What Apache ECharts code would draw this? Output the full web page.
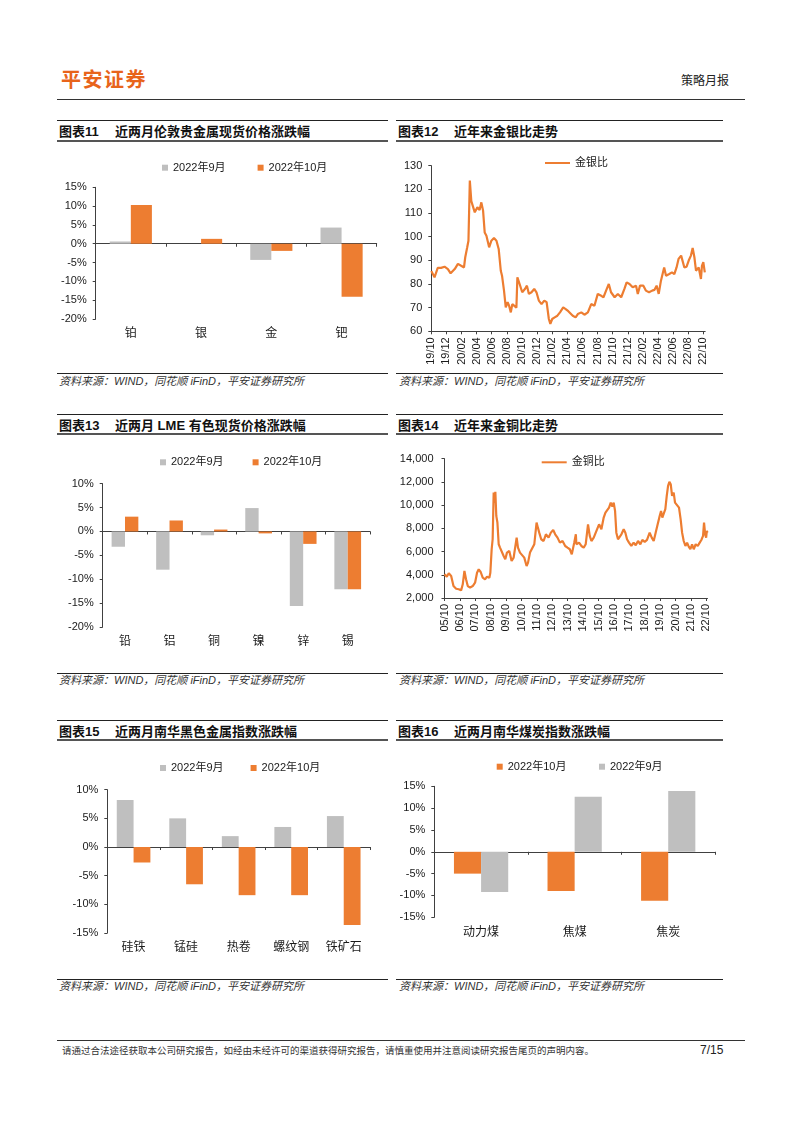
<!DOCTYPE html>
<html>
<head>
<meta charset="utf-8">
<script src="https://cdn.jsdelivr.net/npm/echarts@6/dist/echarts.min.js"></script>
<style>
  html,body{margin:0;padding:0;background:#fff;}
  body{font-family:'Liberation Sans',Arial,'Noto Sans CJK SC',sans-serif;color:#1a1a1a;}
  #page{position:relative;width:802px;height:1133px;overflow:hidden;background:#fff;}
  .ln{position:absolute;height:0;}
  .ttl{position:absolute;font-family:'Liberation Sans',Arial,'Noto Sans CJK SC',sans-serif;font-weight:bold;font-size:13px;line-height:16px;color:#111;white-space:nowrap;}
  .ttl .num{display:inline-block;width:56px;}
  .src{position:absolute;font-style:italic;font-size:11px;line-height:13px;color:#333;white-space:nowrap;}
  .chart{position:absolute;}
</style>
</head>
<body>
<div id="page">
  <!-- header -->
  <div style="position:absolute;left:61px;top:67px;font-family:'Noto Sans CJK SC';font-weight:bold;font-size:20px;line-height:24px;letter-spacing:1.5px;color:#E8641B;">平安证券</div>
  <div style="position:absolute;left:681px;top:72px;font-family:'Noto Sans CJK SC';font-size:12px;line-height:16px;color:#222;">策略月报</div>
  <div class="ln" style="left:57px;top:99px;width:688px;border-top:1px solid #333;"></div>

  <!-- row 1 titles -->
  <div class="ln" style="left:57px;top:120px;width:331px;border-top:1px solid #222;"></div>
  <div class="ttl" style="left:59px;top:124px;"><span class="num">图表11</span>近两月伦敦贵金属现货价格涨跌幅</div>
  <div class="ln" style="left:57px;top:139.5px;width:331px;border-top:2px solid #555;"></div>
  <div class="ln" style="left:396px;top:120px;width:327px;border-top:1px solid #222;"></div>
  <div class="ttl" style="left:398px;top:124px;"><span class="num">图表12</span>近年来金银比走势</div>
  <div class="ln" style="left:396px;top:139.5px;width:327px;border-top:2px solid #555;"></div>

  <div class="ln" style="left:57px;top:373px;width:331px;border-top:1px solid #222;"></div>
  <div class="src" style="left:59px;top:374.5px;">资料来源：WIND，同花顺 iFinD，平安证券研究所</div>
  <div class="ln" style="left:396px;top:373px;width:327px;border-top:1px solid #222;"></div>
  <div class="src" style="left:399px;top:374.5px;">资料来源：WIND，同花顺 iFinD，平安证券研究所</div>

  <!-- row 2 titles -->
  <div class="ln" style="left:57px;top:414px;width:331px;border-top:1px solid #222;"></div>
  <div class="ttl" style="left:59px;top:418px;"><span class="num">图表13</span>近两月 LME 有色现货价格涨跌幅</div>
  <div class="ln" style="left:57px;top:433px;width:331px;border-top:2px solid #555;"></div>
  <div class="ln" style="left:396px;top:414px;width:327px;border-top:1px solid #222;"></div>
  <div class="ttl" style="left:398px;top:418px;"><span class="num">图表14</span>近年来金铜比走势</div>
  <div class="ln" style="left:396px;top:433px;width:327px;border-top:2px solid #555;"></div>

  <div class="ln" style="left:57px;top:673px;width:331px;border-top:1px solid #222;"></div>
  <div class="src" style="left:59px;top:674px;">资料来源：WIND，同花顺 iFinD，平安证券研究所</div>
  <div class="ln" style="left:396px;top:673px;width:327px;border-top:1px solid #222;"></div>
  <div class="src" style="left:399px;top:674px;">资料来源：WIND，同花顺 iFinD，平安证券研究所</div>

  <!-- row 3 titles -->
  <div class="ln" style="left:57px;top:720px;width:331px;border-top:1px solid #222;"></div>
  <div class="ttl" style="left:59px;top:724px;"><span class="num">图表15</span>近两月南华黑色金属指数涨跌幅</div>
  <div class="ln" style="left:57px;top:739px;width:331px;border-top:2px solid #555;"></div>
  <div class="ln" style="left:396px;top:720px;width:327px;border-top:1px solid #222;"></div>
  <div class="ttl" style="left:398px;top:724px;"><span class="num">图表16</span>近两月南华煤炭指数涨跌幅</div>
  <div class="ln" style="left:396px;top:739px;width:327px;border-top:2px solid #555;"></div>

  <div class="ln" style="left:57px;top:979px;width:331px;border-top:1px solid #222;"></div>
  <div class="src" style="left:59px;top:980px;">资料来源：WIND，同花顺 iFinD，平安证券研究所</div>
  <div class="ln" style="left:396px;top:979px;width:327px;border-top:1px solid #222;"></div>
  <div class="src" style="left:399px;top:980px;">资料来源：WIND，同花顺 iFinD，平安证券研究所</div>

  <!-- charts -->
  <div id="c11" class="chart" style="left:57px;top:142px;width:331px;height:228px;"></div>
  <div id="c12" class="chart" style="left:392px;top:142px;width:335px;height:228px;"></div>
  <div id="c13" class="chart" style="left:57px;top:436px;width:331px;height:236px;"></div>
  <div id="c14" class="chart" style="left:392px;top:436px;width:335px;height:236px;"></div>
  <div id="c15" class="chart" style="left:57px;top:742px;width:331px;height:236px;"></div>
  <div id="c16" class="chart" style="left:392px;top:742px;width:335px;height:236px;"></div>

  <!-- footer -->
  <div class="ln" style="left:57px;top:1040px;width:688px;border-top:1px solid #333;"></div>
  <div style="position:absolute;left:62px;top:1044px;font-family:'Noto Sans CJK SC';font-size:9.5px;line-height:12px;color:#333;white-space:nowrap;">请通过合法途径获取本公司研究报告，如经由未经许可的渠道获得研究报告，请慎重使用并注意阅读研究报告尾页的声明内容。</div>
  <div style="position:absolute;left:700px;top:1043px;font-size:12px;line-height:14px;color:#222;">7/15</div>
</div>

<script>
// ---------------- DATA ----------------
// 图表11
const c11Categories = ['铂', '银', '金', '钯'];
const c11Sep = [0.6, 0.0, -4.3, 4.3];
const c11Oct = [10.3, 1.3, -1.9, -14.1];

// 图表13
const c13Categories = ['铅', '铝', '铜', '镍', '锌', '锡'];
const c13Sep = [-3.2, -8.0, -0.8, 4.9, -15.6, -12.1];
const c13Oct = [3.1, 2.3, 0.4, -0.4, -2.6, -12.1];

// 图表15
const c15Categories = ['硅铁', '锰硅', '热卷', '螺纹钢', '铁矿石'];
const c15Sep = [8.2, 5.0, 1.9, 3.5, 5.4];
const c15Oct = [-2.7, -6.5, -8.4, -8.4, -13.6];

// 图表16
const c16Categories = ['动力煤', '焦煤', '焦炭'];
const c16Oct = [-5.0, -9.0, -11.2];
const c16Sep = [-9.2, 12.6, 13.9];

// 图表12 金银比
const gsDates = ['2019-10-01','2019-10-14','2019-10-27','2019-11-10','2019-11-24','2019-12-07','2019-12-18','2020-01-04','2020-01-17','2020-01-30',
 '2020-02-11','2020-02-16','2020-02-24','2020-02-29','2020-03-04','2020-03-10','2020-03-17','2020-03-24','2020-04-04','2020-04-13',
 '2020-04-20','2020-04-27','2020-05-03','2020-05-10','2020-05-21','2020-05-30','2020-06-10','2020-06-20','2020-06-29','2020-07-07',
 '2020-07-12','2020-07-20','2020-07-27','2020-08-04','2020-08-10','2020-08-17','2020-08-23','2020-08-31','2020-09-09','2020-09-13',
 '2020-09-22','2020-10-02','2020-10-13','2020-10-21','2020-10-29','2020-11-09','2020-11-20','2020-11-29','2020-12-08','2020-12-19',
 '2020-12-30','2021-01-09','2021-01-18','2021-01-24','2021-02-01','2021-02-11','2021-02-22','2021-03-02','2021-03-15','2021-03-25',
 '2021-04-05','2021-04-10','2021-04-23','2021-05-04','2021-05-13','2021-05-27','2021-06-09','2021-06-23','2021-07-06','2021-07-19',
 '2021-08-02','2021-08-16','2021-08-25','2021-09-05','2021-09-16','2021-09-25','2021-10-09','2021-10-22','2021-11-05','2021-11-18',
 '2021-11-27','2021-12-08','2021-12-21','2022-01-04','2022-01-11','2022-01-20','2022-02-03','2022-02-13','2022-02-26','2022-03-08',
 '2022-03-17','2022-03-26','2022-04-04','2022-04-13','2022-04-26','2022-05-03','2022-05-16','2022-05-27','2022-06-06','2022-06-15',
 '2022-06-23','2022-07-03','2022-07-10','2022-07-16','2022-07-25','2022-08-03','2022-08-12','2022-08-19','2022-08-26','2022-09-02',
 '2022-09-13','2022-09-22','2022-09-26','2022-10-01','2022-10-07'];
const gsValues = [85.5,82.8,86.8,86.8,87.3,86.3,84.5,86.3,88.5,87.7,
 87.0,91.3,95.5,98.3,123.7,115.0,114.5,110.3,112.4,111.3,
 114.5,111.0,101.8,100.4,95.5,98.3,99.4,98.3,94.8,85.6,
 83.5,77.2,70.1,72.3,70.8,68.0,71.5,72.3,70.0,82.8,
 80.0,76.5,77.9,79.3,75.8,76.5,77.9,76.5,73.0,71.5,
 73.0,72.3,65.2,63.1,65.2,65.9,66.6,68.0,70.1,69.4,
 68.5,68.0,66.6,65.9,67.3,68.0,67.0,68.0,71.5,70.8,
 75.8,75.0,74.4,77.2,80.0,76.5,74.4,75.8,74.4,77.9,
 80.7,80.0,78.6,79.3,75.8,79.3,79.3,77.2,76.5,77.2,
 77.5,79.3,75.8,81.4,87.0,83.5,84.2,84.9,84.2,87.0,
 90.6,92.0,91.3,87.0,87.3,89.9,92.0,95.2,91.3,85.6,
 87.0,82.1,87.7,89.2,84.9];
const gsTickLabels = ['19/10','19/12','20/02','20/04','20/06','20/08','20/10','20/12','21/02','21/04','21/06','21/08','21/10','21/12','22/02','22/04','22/06','22/08','22/10'];

// 图表14 金铜比
const gcDates = ['2005-10-01','2005-11-25','2006-01-11','2006-03-07','2006-05-01','2006-07-03','2006-09-04','2006-10-30','2006-12-08','2007-01-17',
 '2007-02-25','2007-04-05','2007-05-30','2007-08-01','2007-09-26','2007-11-12','2007-12-21','2008-02-07','2008-03-25','2008-05-19',
 '2008-07-05','2008-08-30','2008-09-23','2008-10-24','2008-11-17','2008-12-11','2009-01-04','2009-01-20','2009-02-12','2009-03-08',
 '2009-04-08','2009-05-09','2009-06-26','2009-08-04','2009-09-12','2009-10-22','2009-12-16','2010-02-10','2010-03-28','2010-05-07',
 '2010-06-08','2010-07-09','2010-08-26','2010-10-12','2010-12-06','2011-01-31','2011-03-04','2011-04-20','2011-06-06','2011-07-31',
 '2011-09-24','2011-10-25','2011-11-26','2012-01-12','2012-03-08','2012-05-02','2012-07-04','2012-08-28','2012-10-23','2012-12-09',
 '2013-02-03','2013-03-30','2013-06-01','2013-08-03','2013-09-27','2013-11-21','2014-01-07','2014-03-04','2014-04-12','2014-04-25',
 '2014-06-27','2014-08-21','2014-10-16','2014-12-02','2015-01-27','2015-03-07','2015-04-16','2015-06-10','2015-07-27','2015-09-05',
 '2015-10-15','2015-12-09','2016-02-03','2016-03-14','2016-04-22','2016-06-08','2016-07-18','2016-08-26','2016-09-27','2016-10-29',
 '2016-11-29','2017-01-07','2017-02-16','2017-03-27','2017-05-21','2017-06-30','2017-08-08','2017-09-25','2017-11-19','2018-01-13',
 '2018-03-02','2018-04-26','2018-06-20','2018-08-06','2018-10-02','2018-11-26','2019-01-28','2019-03-16','2019-05-02','2019-06-18',
 '2019-08-05','2019-09-22','2019-10-24','2019-11-24','2019-12-26','2020-02-04','2020-03-07','2020-04-08','2020-05-09','2020-06-10',
 '2020-07-12','2020-08-20','2020-09-21','2020-11-07','2020-12-24','2021-02-02','2021-03-06','2021-04-14','2021-05-24','2021-07-02',
 '2021-08-11','2021-09-20','2021-10-29','2021-12-08','2022-01-24','2022-03-12','2022-04-28','2022-06-06','2022-07-16','2022-08-09',
 '2022-09-05','2022-09-28','2022-10-15','2022-10-28'];
const gcValues = [4040,3840,4130,3900,3030,2800,2750,2660,3180,4330,
 3610,3030,2890,3030,3320,4180,4470,4240,3750,3610,
 3840,3750,4180,6200,7060,11080,10220,11140,9070,8500,
 6630,6340,6200,5620,5330,5910,6050,5190,5480,5620,
 7200,6340,5910,5760,5480,4760,5050,5910,6050,6630,
 8500,8060,7630,7060,6910,7490,7200,7630,7860,7490,
 7200,6770,6910,6480,6340,6200,5760,6770,7490,6630,
 6770,6480,6340,6630,8350,7350,6910,7200,7630,7490,
 8350,7920,8930,9360,9500,9790,10220,9880,10220,9500,
 7630,7060,7200,7490,7920,7630,7060,6770,6480,6770,
 6540,6910,6630,7000,6830,7000,7630,7200,6910,7630,
 8350,9070,9500,8930,8930,9650,10800,11660,12000,11800,
 10800,11080,10220,10360,9790,8780,7630,6910,6480,6770,
 6430,6200,6630,6200,6630,6480,6770,7000,7350,8500,
 7490,7200,7780,7630];
const gcTickLabels = ['05/10','06/10','07/10','08/10','09/10','10/10','11/10','12/10','13/10','14/10','15/10','16/10','17/10','18/10','19/10','20/10','21/10','22/10'];

// ---------------- STYLE ----------------
const FONT = "'Liberation Sans', Arial, 'Noto Sans CJK SC', sans-serif";
const AX = '#404040';
const TXT = '#1a1a1a';
const GRAY = '#BFBFBF';
const ORANGE = '#ED7D31';

function monthsSince(d, y0, m0) {
  const p = d.split('-').map(Number);
  return (p[0] - y0) * 12 + (p[1] - m0) + (p[2] - 1) / 30.5;
}

function barChart(id, cfg) {
  const ch = echarts.init(document.getElementById(id));
  ch.setOption({
    animation: false,
    textStyle: { fontFamily: FONT },
    legend: {
      left: cfg.legend[0], top: cfg.legend[1], itemGap: cfg.legend[2],
      icon: 'rect', itemWidth: 6, itemHeight: 6, selectedMode: false,
      textStyle: { fontSize: 11, color: TXT, fontFamily: FONT, lineHeight: 14 }
    },
    grid: { left: cfg.grid[0], top: cfg.grid[1], width: cfg.grid[2], height: cfg.grid[3], containLabel: false, outerBoundsMode: 'none' },
    xAxis: [
      { type: 'category', data: cfg.cats, position: 'bottom',
        axisLine: { show: false, onZero: false }, axisTick: { show: false },
        axisLabel: { fontSize: 12, color: TXT, margin: 9, fontFamily: FONT } },
      { type: 'category', data: cfg.cats, position: 'bottom',
        axisLine: { show: true, onZero: true, lineStyle: { color: AX, width: 1 } },
        axisTick: { show: true, length: 3, lineStyle: { color: AX } },
        axisLabel: { show: false } }
    ],
    yAxis: {
      type: 'value', min: cfg.min, max: cfg.max, interval: 5,
      axisLine: { show: true, lineStyle: { color: AX } },
      axisTick: { show: true, length: 3, lineStyle: { color: AX } },
      splitLine: { show: false },
      axisLabel: { formatter: v => v + '%', fontSize: 11, color: TXT, margin: 9 }
    },
    series: cfg.series.map(s => ({
      type: 'bar', name: s.name, data: s.data, barWidth: cfg.barWidth, barGap: '0%',
      itemStyle: { color: s.color }
    }))
  });
}

function lineChart(id, cfg) {
  const ch = echarts.init(document.getElementById(id));
  const ticks = cfg.tickLabels.map((_, i) => i * cfg.tickStep);
  ch.setOption({
    animation: false,
    textStyle: { fontFamily: FONT },
    legend: {
      left: cfg.legend[0], top: cfg.legend[1], icon: 'rect', itemWidth: 25, itemHeight: 2, selectedMode: false,
      textStyle: { fontSize: 11, color: TXT, fontFamily: FONT, lineHeight: 14 }
    },
    grid: { left: cfg.grid[0], top: cfg.grid[1], width: cfg.grid[2], height: cfg.grid[3], containLabel: false, outerBoundsMode: 'none' },
    xAxis: {
      type: 'value', min: 0, max: cfg.xMax,
      axisLine: { show: true, onZero: false, lineStyle: { color: AX } },
      axisTick: { show: true, length: 3, customValues: ticks, lineStyle: { color: AX } },
      axisLabel: { customValues: ticks, rotate: 90, fontSize: 11, color: TXT, margin: 6,
        formatter: v => { const i = Math.round(v / cfg.tickStep); return cfg.tickLabels[i] || ''; } },
      splitLine: { show: false }
    },
    yAxis: {
      type: 'value', min: cfg.yMin, max: cfg.yMax, interval: cfg.yInterval,
      axisLine: { show: true, lineStyle: { color: AX } },
      axisTick: { show: true, length: 3, lineStyle: { color: AX } },
      splitLine: { show: false },
      axisLabel: { formatter: cfg.yFmt, fontSize: 11, color: TXT, margin: cfg.yMargin }
    },
    series: [{
      type: 'line', name: cfg.name, data: cfg.data, symbol: 'none', showSymbol: false,
      lineStyle: { width: 2.2, color: ORANGE }, itemStyle: { color: ORANGE }
    }]
  });
}

// 图表11
barChart('c11', {
  cats: c11Categories, min: -20, max: 15, barWidth: '30%',
  grid: [38.7, 45.3, 281, 131.7], legend: [100, 13.7, 32],
  series: [{ name: '2022年9月', data: c11Sep, color: GRAY }, { name: '2022年10月', data: c11Oct, color: ORANGE }]
});
// 图表13
barChart('c13', {
  cats: c13Categories, min: -20, max: 10, barWidth: '30%',
  grid: [45.7, 47.7, 267.3, 143.3], legend: [98, 14.3, 29],
  series: [{ name: '2022年9月', data: c13Sep, color: GRAY }, { name: '2022年10月', data: c13Oct, color: ORANGE }]
});
// 图表15
barChart('c15', {
  cats: c15Categories, min: -15, max: 10, barWidth: '32%',
  grid: [50.3, 47.7, 262.7, 143.3], legend: [98, 14, 27],
  series: [{ name: '2022年9月', data: c15Sep, color: GRAY }, { name: '2022年10月', data: c15Oct, color: ORANGE }]
});
// 图表16
barChart('c16', {
  cats: c16Categories, min: -15, max: 15, barWidth: '29%',
  grid: [42.3, 44.3, 280.7, 131], legend: [99.7, 12.7, 32.6],
  series: [{ name: '2022年10月', data: c16Oct, color: ORANGE }, { name: '2022年9月', data: c16Sep, color: GRAY }]
});
// 图表12
lineChart('c12', {
  name: '金银比',
  data: gsDates.map((d, i) => [monthsSince(d, 2019, 10), gsValues[i]]),
  tickLabels: gsTickLabels, tickStep: 2, xMax: 36.25,
  yMin: 60, yMax: 130, yInterval: 10, yFmt: v => String(v), yMargin: 9,
  grid: [39.3, 23.7, 273.9, 165.6], legend: [148, 9]
});
// 图表14
lineChart('c14', {
  name: '金铜比',
  data: gcDates.map((d, i) => [monthsSince(d, 2005, 10) / 12, gcValues[i]]),
  tickLabels: gcTickLabels, tickStep: 1, xMax: 17.08,
  yMin: 2000, yMax: 14000, yInterval: 2000, yFmt: v => v.toLocaleString('en-US'), yMargin: 11,
  grid: [52.5, 22.7, 263, 139.3], legend: [144.7, 14.3]
});
</script>
</body>
</html>
